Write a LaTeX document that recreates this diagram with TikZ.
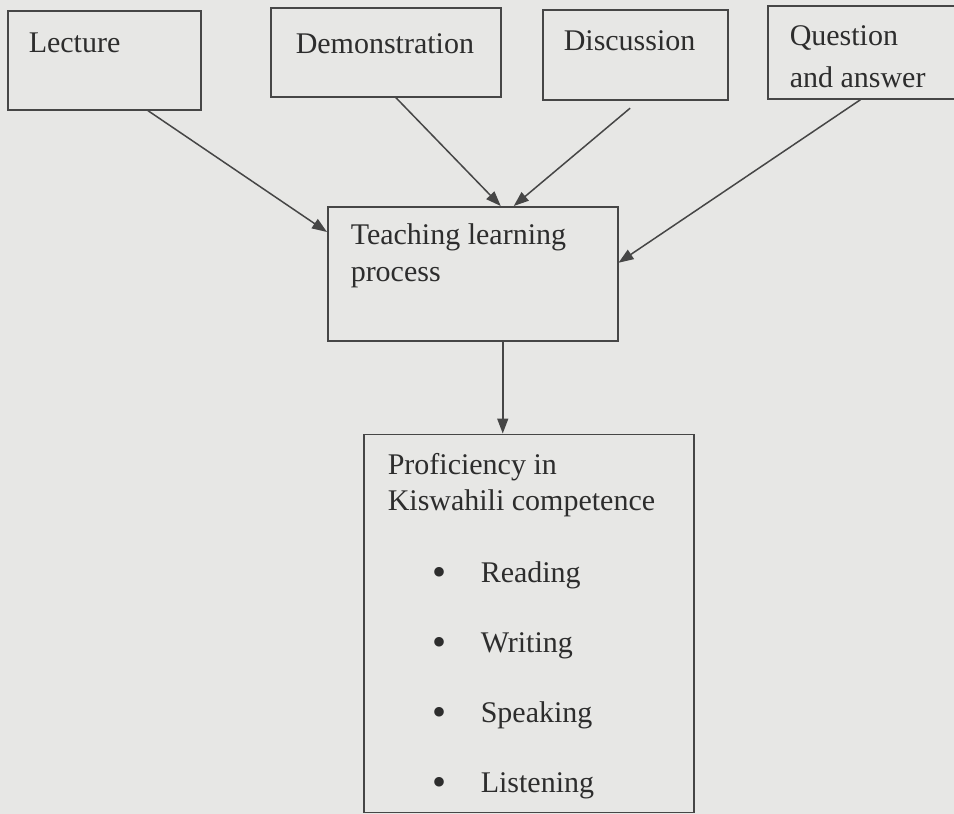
\documentclass[tikz,border=0pt]{standalone}
\usepackage{fontspec}
\setmainfont{Liberation Serif}
\usepackage{xcolor}
\usetikzlibrary{arrows.meta,positioning}
\definecolor{paper}{RGB}{231,231,229}
\definecolor{ink}{RGB}{70,70,70}
\definecolor{txt}{RGB}{45,45,45}
\newcommand{\skill}[1]{\hspace*{45pt}\makebox[48pt][l]{\raisebox{-3pt}{\fontsize{40}{40}\selectfont\textbullet}}#1}

\begin{document}
\begin{tikzpicture}[x=1pt,y=-1pt,
    box/.style={draw=ink,line width=1.5pt,anchor=north west,inner ysep=0pt,
                align=flush left,text=txt,font=\fontsize{30}{36}\selectfont},
    arr/.style={draw=ink,line width=1.5pt,-{Triangle[length=15pt,width=11pt]}}]
    \clip (0,0) rectangle (954,814);
    \fill[paper] (0,0) rectangle (954,814);
    \node[box,inner xsep=21pt,text width=151pt,text height=42pt,text depth=57pt] (lect) at (7,10) {Lecture};
    \node[box,inner xsep=25pt,text width=180pt,text height=46pt,text depth=43pt] (demo) at (270,7) {Demonstration};
    \node[box,inner xsep=21pt,text width=143pt,text height=41pt,text depth=49pt] (disc) at (542,9) {Discussion};
    \node[box,inner xsep=22pt,text width=171pt,text height=40pt,text depth=53pt,
          font=\fontsize{30}{42}\selectfont] (qa) at (767,5) {Question\\and answer};
    \node[box,inner xsep=23pt,text width=244pt,text height=38pt,text depth=96pt,
          font=\fontsize{30}{37}\selectfont] (tlp) at (327,206) {Teaching learning\\process};
    \node[box,below=92pt of tlp,xshift=56pt,inner xsep=24pt,text width=282pt,
          text height=40pt,text depth=338pt] (prof) {Proficiency in\\Kiswahili competence\\[36pt]
          \skill{Reading}\\[34pt]\skill{Writing}\\[34pt]\skill{Speaking}\\[34pt]\skill{Listening}};
    \draw[arr] ([xshift=43.5pt]lect.south) -- ([yshift=-26pt]tlp.north west);
    \draw[arr] ([xshift=10pt]demo.south) -- ([xshift=28pt]tlp.north);
    \draw[arr,shorten <=12pt] ([xshift=4pt]disc.south) -- ([xshift=41pt]tlp.north);
    \draw[arr] ([xshift=-14.5pt]qa.south) -- ([yshift=11pt]tlp.east);
    \draw[arr] ([xshift=30pt]tlp.south) -- ([xshift=30pt]tlp.south |- prof.north);
  \end{tikzpicture}
\end{document}
